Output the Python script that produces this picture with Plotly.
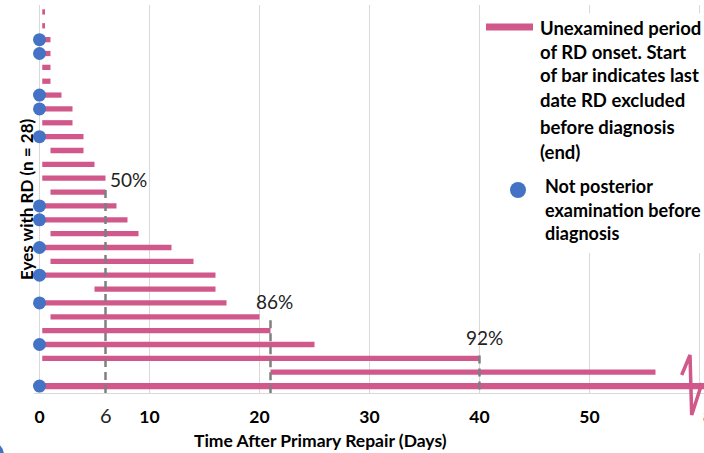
import plotly.graph_objects as go

# Rows listed from top (row 1) to bottom (row 28)
bar_starts = [0.25, 0.25, 0, 0, 0.25, 0.25, 0, 0, 0.25, 0, 1, 0.25, 0.25, 1,
              0, 0, 1, 0, 1, 0, 5, 0, 1, 0.25, 0, 0.25, 21, 0]
bar_ends = [0.5, 0.5, 1, 1, 1, 1, 2, 3, 3, 4, 4, 5, 6, 6,
            7, 8, 9, 12, 14, 16, 16, 17, 20, 21, 25, 40, 56, 80]
no_posterior_exam = [0, 0, 1, 1, 0, 0, 1, 1, 0, 1, 0, 0, 0, 0,
                     1, 1, 0, 1, 0, 1, 0, 1, 0, 0, 1, 0, 0, 1]
pct_labels = ["50%", "86%", "92%"]
pct_days = [6, 21, 40]
pct_row_top = [15.15, 5.75, 3.2]
pct_label_pos = [(8.1, 15.9), (21.4, 7.1), (40.5, 4.5)]
tick_vals = [0, 10, 20, 30, 40, 50, 60]
tick_text = ["0", "10", "20", "30", "40", "50", ""]

n = len(bar_starts)
rows = [n - i for i in range(n)]  # top row = 28
durations = [e - s for s, e in zip(bar_starts, bar_ends)]
widths = [0.38] * (n - 1) + [0.46]

PINK = "#d0588a"
BLUE = "#4472c4"
GREY = "#7f7f7f"
FONT = "Lato"

fig = go.Figure()
fig.add_trace(go.Bar(
    y=rows, x=durations, base=bar_starts, orientation="h", width=widths,
    marker=dict(color=PINK, line=dict(width=0)), showlegend=False, hoverinfo="skip"))

for d, top in zip(pct_days, pct_row_top):
    fig.add_trace(go.Scatter(x=[d, d], y=[top, 0.5], mode="lines",
                             line=dict(color=GREY, width=2.5, dash="8px,5px"),
                             showlegend=False, hoverinfo="skip"))

dot_rows = [r for r, f in zip(rows, no_posterior_exam) if f]
fig.add_trace(go.Scatter(x=[0] * len(dot_rows), y=dot_rows, mode="markers",
                         marker=dict(color=BLUE, size=13), cliponaxis=False,
                         showlegend=False, hoverinfo="skip"))

# legend dot
fig.add_trace(go.Scatter(x=[43.5], y=[15.15], mode="markers",
                         marker=dict(color=BLUE, size=16), cliponaxis=False,
                         showlegend=False, hoverinfo="skip"))

annotations = []
for t, (ax, ay) in zip(pct_labels, pct_label_pos):
    annotations.append(dict(x=ax, y=ay, text=t, showarrow=False,
                            font=dict(family=FONT, size=19, color="#222222"),
                            xanchor="center", yanchor="middle"))

leg1 = ["Unexamined period", "of RD onset. Start", "of bar indicates last",
        "date RD excluded", "before diagnosis", "(end)"]
leg1_py = [28, 52, 75, 100, 127, 152]
for t, py_ in zip(leg1, leg1_py):
    annotations.append(dict(x=(538 - 39.5) / 11, y=28.5 - (py_ - 5) / 13.857, text="<b>%s</b>" % t,
                            showarrow=False, xanchor="left", yanchor="middle",
                            font=dict(family=FONT, size=18.5, color="black")))
leg2 = ["Not posterior", "examination before", "diagnosis"]
leg2_py = [186, 210, 233]
for t, py_ in zip(leg2, leg2_py):
    annotations.append(dict(x=(543 - 39.5) / 11, y=28.5 - (py_ - 5) / 13.857, text="<b>%s</b>" % t,
                            showarrow=False, xanchor="left", yanchor="middle",
                            font=dict(family=FONT, size=18, color="black")))

# extra tick-like labels
annotations.append(dict(x=6, y=(393 - 415) / 388, xref="x", yref="paper", text="6",
                        showarrow=False, xanchor="center", yanchor="middle",
                        font=dict(family=FONT, size=20, color="#222222")))
annotations.append(dict(x=(701 - 34) / 670, y=(393 - 416) / 388, xref="paper", yref="paper",
                        text="<b>80</b>", showarrow=False, xanchor="left", yanchor="middle",
                        font=dict(family=FONT, size=17.5, color="black")))
# axis titles
annotations.append(dict(x=(320 - 34) / 670, y=(393 - 440) / 388, xref="paper", yref="paper",
                        text="<b>Time After Primary Repair (Days)</b>", showarrow=False,
                        xanchor="center", yanchor="middle",
                        font=dict(family=FONT, size=17.5, color="black")))
annotations.append(dict(x=(26 - 34) / 670, y=(393 - 199) / 388, xref="paper", yref="paper",
                        text="<b>Eyes with RD (n = 28)</b>", showarrow=False, textangle=-90,
                        xanchor="center", yanchor="middle",
                        font=dict(family=FONT, size=17, color="black")))


def px(x):
    return (x - 34) / 670


def py(y):
    return (393 - y) / 388


shapes = [
    # legend background
    dict(type="rect", xref="x", yref="y", x0=40.25, x1=62, y0=10.6, y1=27.9,
         fillcolor="white", line=dict(width=0), layer="between"),
    # legend line sample
    dict(type="line", xref="x", yref="y", x0=(486 - 39.5) / 11, x1=(533 - 39.5) / 11,
         y0=28.5 - 22 / 13.857, y1=28.5 - 22 / 13.857, line=dict(color=PINK, width=7)),
    # axis break zigzag
    dict(type="path", xref="paper", yref="paper",
         path="M %f %f L %f %f L %f %f L %f %f" % (px(681.7), py(375), px(690), py(355),
                                                   px(691.7), py(415), px(702), py(383)),
         line=dict(color=PINK, width=3.5)),
    # corner artifact
    dict(type="circle", xref="paper", yref="paper", x0=px(-24), x1=px(4), y0=py(469), y1=py(441),
         fillcolor=BLUE, line=dict(width=0)),
]

fig.update_layout(
    width=704, height=453,
    margin=dict(l=34, r=0, t=5, b=60),
    paper_bgcolor="white", plot_bgcolor="white",
    barmode="overlay",
    font=dict(family=FONT),
    xaxis=dict(range=[-0.5, 60.41], tickvals=tick_vals, ticktext=tick_text,
               showgrid=True, gridcolor="#d9d9d9", gridwidth=1, zeroline=False,
               showline=True, linecolor="#d9d9d9", linewidth=1,
               ticks="outside", ticklen=8, tickcolor="rgba(0,0,0,0)",
               tickfont=dict(family=FONT, size=17.5, color="black", weight="bold")),
    yaxis=dict(range=[0.5, 28.5], showgrid=False, zeroline=False, showticklabels=False,
               showline=False),
    annotations=annotations,
    shapes=shapes,
)

fig.write_html("out.html", config={"displayModeBar": False},
               post_script="document.body.style.margin='0';document.body.style.overflow='hidden';")
